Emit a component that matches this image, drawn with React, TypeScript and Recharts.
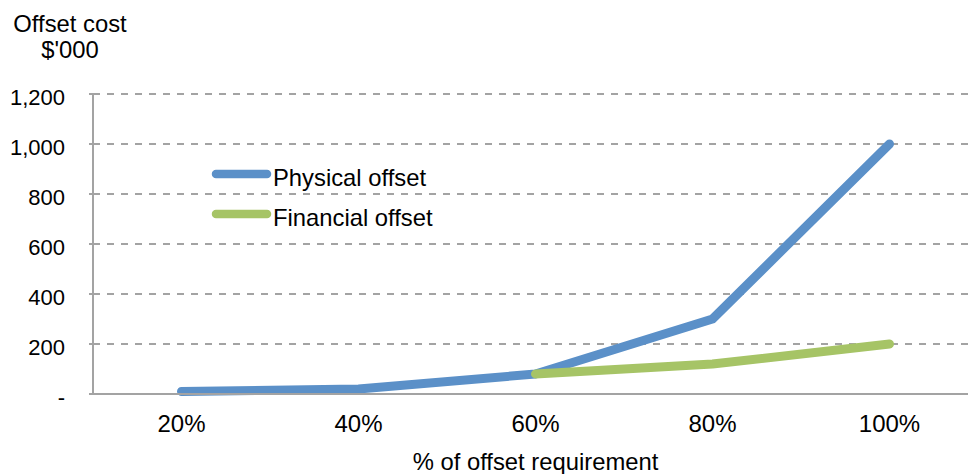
import React from 'react';
import { LineChart, Line, XAxis, YAxis, CartesianGrid, Legend } from 'recharts';

const categories = ['20%', '40%', '60%', '80%', '100%'];
const physicalOffset = [10, 20, 80, 300, 1000];
const financialOffset: (number | null)[] = [null, null, 80, 120, 200];
const yTicks = [0, 200, 400, 600, 800, 1000, 1200];

const SERIES = [
  { key: 'physical', name: 'Physical offset', color: '#5b90c8' },
  { key: 'financial', name: 'Financial offset', color: '#a6c466' },
];

const FONT = '"Liberation Sans", Arial, Helvetica, sans-serif';
const AXIS_GREY = '#a3a3a3';
const TEXT_SIZE = 23.8;

const data = categories.map((cat, i) => ({
  cat,
  physical: physicalOffset[i],
  financial: financialOffset[i],
}));

const formatCost = (v: number) => (v === 0 ? '-' : v.toLocaleString('en-US'));

// swatch + label rows, drawn as svg so the line caps stay round
const LegendBox = () => (
  <svg width={260} height={80} style={{ display: 'block' }}>
    {SERIES.map((s, i) => (
      <g key={s.key}>
        <line x1={7} x2={58} y1={14 + i * 40} y2={14 + i * 40} stroke={s.color} strokeWidth={8.5} strokeLinecap="round" />
        <text x={64} y={25.7 + i * 40} fontSize={TEXT_SIZE} fill="#000" fontFamily={FONT}>
          {s.name}
        </text>
      </g>
    ))}
  </svg>
);

const App: React.FC = () => {
  return (
    <div style={{ position: 'absolute', left: 0, top: 0, width: 968, height: 474, overflow: 'hidden', background: '#fff', fontFamily: FONT }}>
      <svg width={200} height={70} style={{ position: 'absolute', left: 0, top: 0 }}>
        <text x={70} y={31.7} textAnchor="middle" fontSize={TEXT_SIZE} fill="#000" fontFamily={FONT}>Offset cost</text>
        <text x={70} y={58.3} textAnchor="middle" fontSize={TEXT_SIZE} fill="#000" fontFamily={FONT}>$'000</text>
      </svg>
      <LineChart width={978} height={474} data={data} margin={{ top: 94, right: 0, bottom: 0, left: 0 }} style={{ fontFamily: FONT }}>
        <CartesianGrid vertical={false} stroke={AXIS_GREY} strokeWidth={2} strokeDasharray="7 7" />
        <XAxis
          dataKey="cat"
          scale="band"
          height={80}
          axisLine={{ stroke: AXIS_GREY, strokeWidth: 2 }}
          tickLine={false}
          tickSize={0}
          tickMargin={21}
          tick={{ fill: '#000', fontSize: 24 }}
          label={{ value: '% of offset requirement', position: 'insideBottom', offset: 4, fill: '#000', fontSize: TEXT_SIZE }}
        />
        <YAxis
          width={93}
          domain={[0, 1200]}
          ticks={yTicks}
          tickFormatter={formatCost}
          axisLine={{ stroke: AXIS_GREY, strokeWidth: 2 }}
          tickLine={{ stroke: AXIS_GREY, strokeWidth: 2 }}
          tickSize={4}
          tickMargin={24}
          tick={{ fill: '#000', fontSize: 22, dy: 3 }}
        />
        <Legend
          layout="vertical"
          align="center"
          verticalAlign="middle"
          content={() => <LegendBox />}
          wrapperStyle={{ position: 'absolute', left: 209, top: 160, width: 260 }}
        />
        {SERIES.map((s) => (
          <Line
            key={s.key}
            type="linear"
            dataKey={s.key}
            name={s.name}
            stroke={s.color}
            strokeWidth={9}
            strokeLinecap="round"
            strokeLinejoin="round"
            dot={false}
            activeDot={false}
            isAnimationActive={false}
          />
        ))}
      </LineChart>
    </div>
  );
};

export default App;
